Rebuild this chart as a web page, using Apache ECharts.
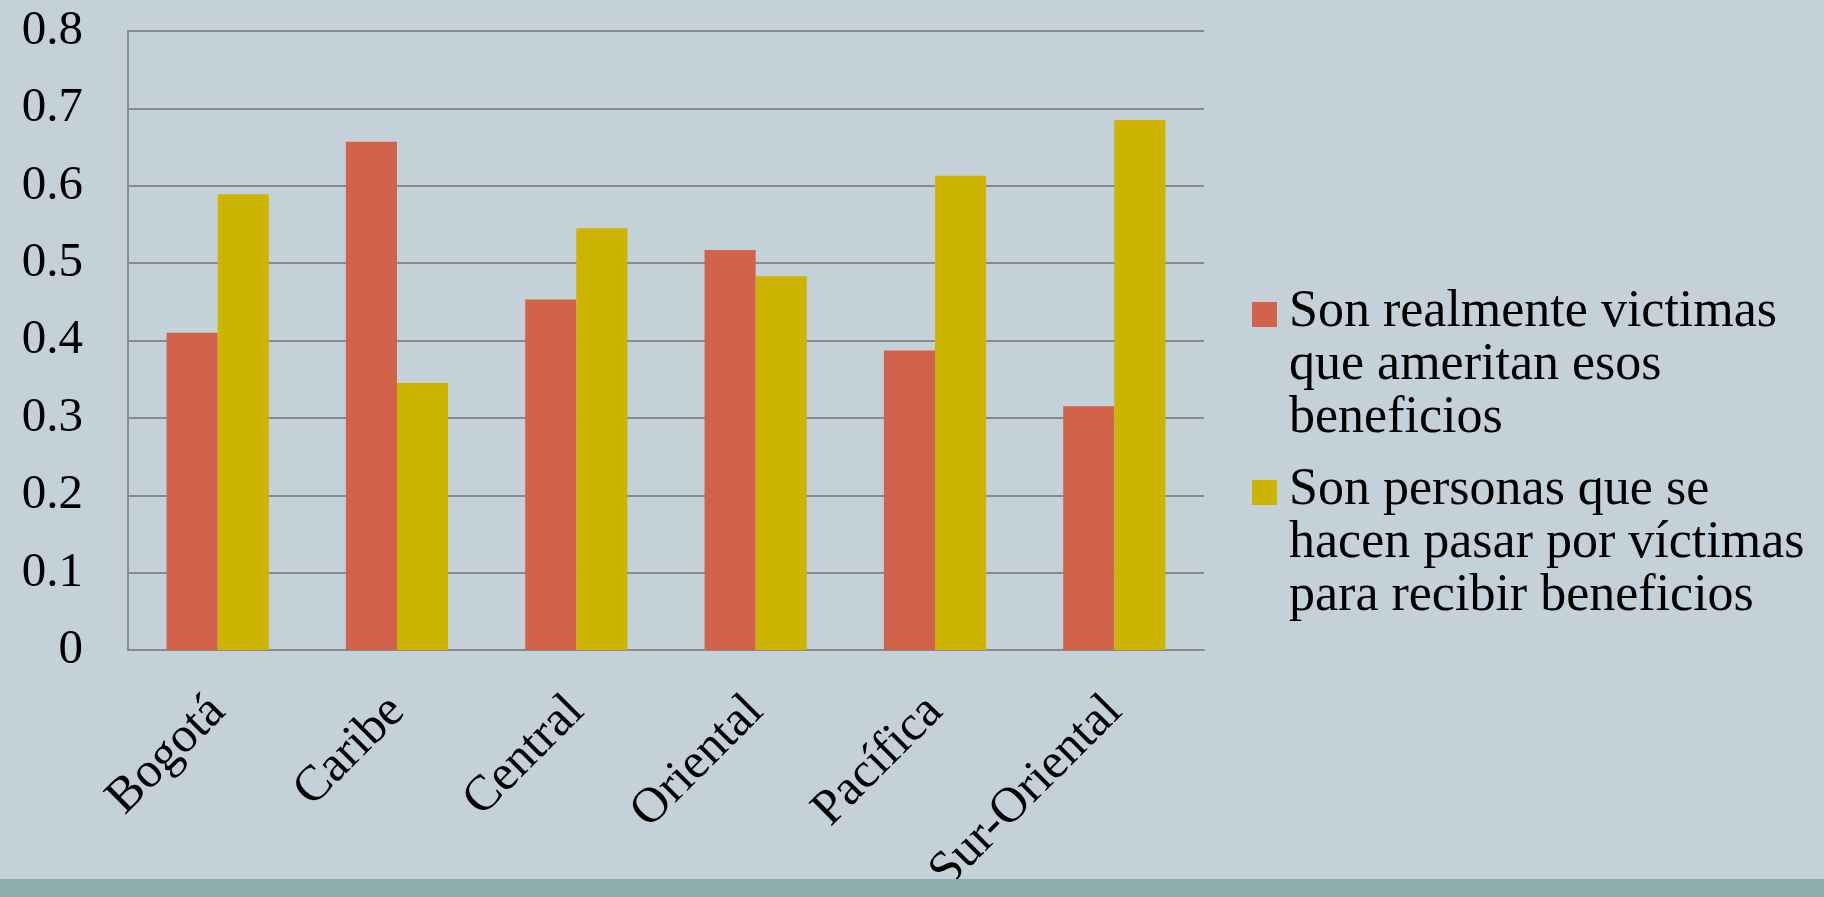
<!DOCTYPE html>
<html>
<head>
<meta charset="utf-8">
<script src="https://cdn.jsdelivr.net/npm/echarts@6/dist/echarts.min.js"></script>
<style>
  html, body { margin: 0; padding: 0; background: #C5D1D8; }
  #chart { width: 1824px; height: 897px; }
</style>
</head>
<body>
<div id="chart"></div>
<script>
const categories = ['Bogotá', 'Caribe', 'Central', 'Oriental', 'Pacífica', 'Sur-Oriental'];
const seriesNames = [
  'Son realmente victimas que ameritan esos beneficios',
  'Son personas que se hacen pasar por víctimas para recibir beneficios'
];
const legendLines = [
  'Son realmente victimas\nque ameritan esos\nbeneficios',
  'Son personas que se\nhacen pasar por víctimas\npara recibir beneficios'
];
const realmenteVictimas = [0.410, 0.657, 0.453, 0.517, 0.387, 0.315];
const sePasanPorVictimas = [0.589, 0.345, 0.545, 0.483, 0.613, 0.685];
const yTicks = [0, 0.1, 0.2, 0.3, 0.4, 0.5, 0.6, 0.7, 0.8];

const FONT = 'Liberation Serif';
const chart = echarts.init(document.getElementById('chart'));
// square marker aligned with the first text line of a three-line legend entry
const legendIcon = 'path://M0,16h25v25h-25zM0,0M32,159';

chart.setOption({
  backgroundColor: '#C5D1D8',
  animation: false,
  textStyle: { fontFamily: FONT },
  grid: { left: 128, right: 620, top: 31, bottom: 247, containLabel: false, outerBoundsMode: 'none' },
  legend: {
    orient: 'vertical',
    left: 1247,
    top: 281,
    itemWidth: 32,
    itemHeight: 159,
    itemGap: 19,
    selectedMode: false,
    textStyle: { fontFamily: FONT, fontSize: 52, lineHeight: 53, color: '#000' },
    formatter: function (name) { return legendLines[seriesNames.indexOf(name)]; },
    data: seriesNames.map(n => ({ name: n, icon: legendIcon }))
  },
  xAxis: {
    type: 'category',
    data: categories,
    axisLine: { show: true, lineStyle: { color: '#8A8A8A', width: 2 } },
    axisTick: { show: false },
    axisLabel: {
      rotate: 45,
      interval: 0,
      margin: 54,
      padding: [117, 0, 0, 0],
      fontFamily: FONT,
      fontSize: 50,
      color: '#000'
    }
  },
  yAxis: {
    type: 'value',
    min: 0,
    max: 0.8,
    interval: 0.1,
    axisLine: { show: true, lineStyle: { color: '#8A8A8A', width: 2 } },
    axisTick: { show: false },
    splitLine: { show: true, lineStyle: { color: '#8A8A8A', width: 2 } },
    axisLabel: {
      margin: 45,
      fontFamily: FONT,
      fontSize: 49,
      color: '#000',
      formatter: function (v) {
        const t = yTicks.find(x => Math.abs(x - v) < 1e-9);
        return t === 0 ? '0' : String(Math.round(v * 10) / 10);
      }
    }
  },
  series: [
    { name: seriesNames[0], type: 'bar', data: realmenteVictimas, barWidth: '28.5%', barGap: '0%', itemStyle: { color: '#D1634A' } },
    { name: seriesNames[1], type: 'bar', data: sePasanPorVictimas, barWidth: '28.5%', barGap: '0%', itemStyle: { color: '#CDB400' } }
  ],
  graphic: [
    { type: 'rect', left: 0, top: 879, z: 100, shape: { width: 1824, height: 18 }, style: { fill: '#8BADAD' } }
  ]
});
</script>
</body>
</html>
